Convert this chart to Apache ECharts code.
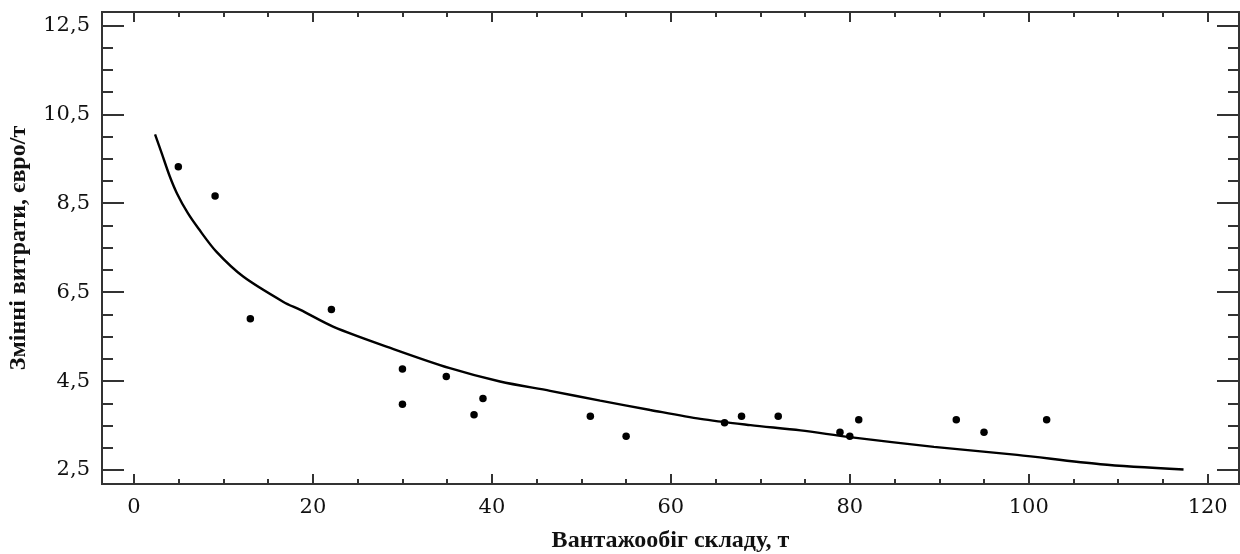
<!DOCTYPE html>
<html>
<head>
<meta charset="utf-8">
<script src="https://cdn.jsdelivr.net/npm/echarts@6/dist/echarts.min.js"></script>
<style>
html,body{margin:0;padding:0;background:#fff;}
#chart{width:1240px;height:554px;}
</style>
</head>
<body>
<div id="chart"></div>
<script>
// Observed points: x = вантажообіг складу (т), y = змінні витрати (євро/т)
const pointX = [4.95, 9.06, 13.0, 22.06, 30.0, 30.0, 34.9, 38.0, 39.0, 51.0, 55.0, 66.0, 67.9, 72.0, 78.9, 80.0, 81.0, 91.9, 95.0, 102.0];
const pointY = [9.32, 8.66, 5.90, 6.11, 4.77, 3.98, 4.60, 3.74, 4.11, 3.71, 3.26, 3.56, 3.71, 3.71, 3.35, 3.26, 3.63, 3.63, 3.35, 3.63];

// Fitted curve
const curveX = [2.35, 3.1, 4.0, 4.8, 6.0, 7.2, 9.2, 12.2, 16.7, 18.6, 22.3, 29.0, 35.3, 40.9, 46.5, 52.1, 57.7, 63.3, 68.9, 74.5, 80.0, 89.4, 98.7, 108.0, 117.3];
const curveY = [10.05, 9.62, 9.10, 8.72, 8.28, 7.93, 7.41, 6.85, 6.28, 6.10, 5.72, 5.22, 4.79, 4.49, 4.28, 4.06, 3.85, 3.65, 3.51, 3.39, 3.24, 3.02, 2.84, 2.63, 2.51];

// Tick values
const xMajorTicks = [0, 20, 40, 60, 80, 100, 120];
const xMinorTicks = [5, 10, 15, 25, 30, 35, 45, 50, 55, 65, 70, 75, 85, 90, 95, 105, 110, 115];
const yMajorTicks = [2.5, 4.5, 6.5, 8.5, 10.5, 12.5];
const yMinorTicks = [3.0, 3.5, 4.0, 5.0, 5.5, 6.0, 7.0, 7.5, 8.0, 9.0, 9.5, 10.0, 11.0, 11.5, 12.0];

const xTitle = 'Вантажообіг складу, т';
const yTitle = 'Змінні витрати, євро/т';

const X_MIN = -3.58, X_MAX = 123.5;
const Y_MIN = 2.185, Y_MAX = 12.8;

const axisColor = '#333333';
const labelFont = {fontFamily: 'DejaVu Serif', fontSize: 21, color: '#111111'};
const titleFont = {fontFamily: 'Liberation Serif', fontWeight: 'bold', fontSize: 24, color: '#111111'};

function xAxisDef(pos, ticks, len, showLabel, name){
  return {
    type: 'value', position: pos, min: X_MIN, max: X_MAX,
    name: name || '', nameLocation: 'middle', nameGap: 45, nameTextStyle: titleFont,
    axisLine: {show: true, onZero: false, lineStyle: {color: axisColor, width: 2}},
    axisTick: {show: true, inside: true, length: len, customValues: ticks, lineStyle: {color: axisColor, width: 2}},
    axisLabel: {show: showLabel, customValues: ticks, margin: 13, formatter: v => String(v), ...labelFont},
    splitLine: {show: false}
  };
}
function yAxisDef(pos, ticks, len, showLabel, name){
  return {
    type: 'value', position: pos, min: Y_MIN, max: Y_MAX,
    name: name || '', nameLocation: 'middle', nameGap: 71, nameTextStyle: titleFont,
    axisLine: {show: true, onZero: false, lineStyle: {color: axisColor, width: 2}},
    axisTick: {show: true, inside: true, length: len, customValues: ticks, lineStyle: {color: axisColor, width: 2}},
    axisLabel: {show: showLabel, customValues: ticks, margin: 12, formatter: v => v.toFixed(1).replace('.', ','), ...labelFont},
    splitLine: {show: false}
  };
}

const chart = echarts.init(document.getElementById('chart'));
chart.setOption({
  backgroundColor: '#ffffff',
  animation: false,
  grid: {left: 102, right: 1, top: 12, bottom: 70, containLabel: false, outerBoundsMode: 'none'},
  xAxis: [
    xAxisDef('bottom', xMajorTicks, 10, true, xTitle),
    xAxisDef('bottom', xMinorTicks, 5, false),
    xAxisDef('top', xMajorTicks, 10, false),
    xAxisDef('top', xMinorTicks, 5, false)
  ],
  yAxis: [
    yAxisDef('left', yMajorTicks, 22, true, yTitle),
    yAxisDef('left', yMinorTicks, 11, false),
    yAxisDef('right', yMajorTicks, 22, false),
    yAxisDef('right', yMinorTicks, 11, false)
  ],
  series: [
    {
      type: 'line', xAxisIndex: 0, yAxisIndex: 0,
      data: curveX.map((x, i) => [x, curveY[i]]),
      showSymbol: false, smooth: 0.3,
      lineStyle: {color: '#000000', width: 2.4}
    },
    {
      type: 'scatter', xAxisIndex: 0, yAxisIndex: 0,
      data: pointX.map((x, i) => [x, pointY[i]]),
      symbol: 'circle', symbolSize: 7.5,
      itemStyle: {color: '#000000', opacity: 1}
    }
  ]
});
</script>
</body>
</html>
